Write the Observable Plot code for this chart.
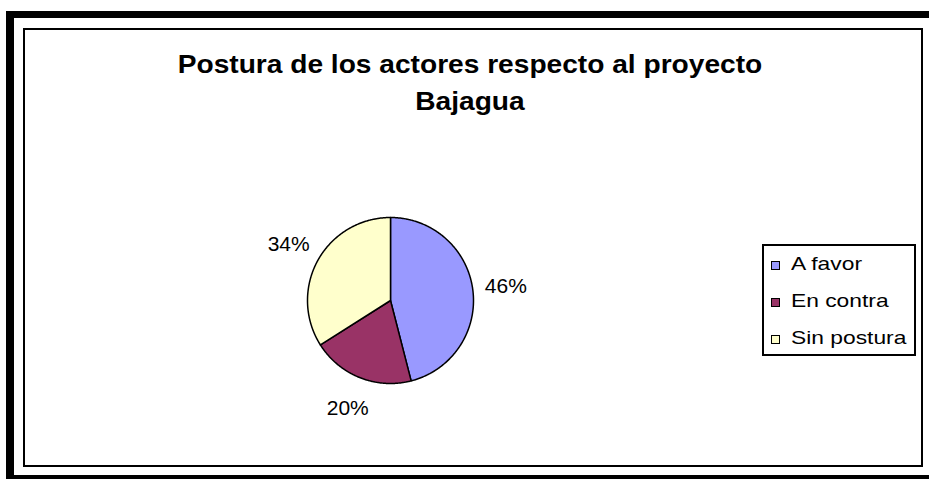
<!DOCTYPE html>
<html>
<head>
<meta charset="utf-8">
<script src="https://cdn.jsdelivr.net/npm/d3@7"></script>
<script src="https://cdn.jsdelivr.net/npm/@observablehq/plot@0.6"></script>
<style>
  html, body { margin: 0; padding: 0; background: #fff; }
  body { width: 929px; height: 479px; overflow: hidden; position: relative; font-family: "Liberation Sans", Arial, sans-serif; }
  #outer { position: absolute; left: 6px; top: 11px; width: 1000px; height: 468px; box-sizing: border-box;
           border-top: 7px solid #000; border-left: 8px solid #000; border-bottom: 4px solid #000; }
  #inner { position: absolute; left: 23px; top: 28px; width: 900px; height: 439px; box-sizing: border-box; border: 2px solid #000; }
  #chart { position: absolute; left: 0; top: 0; }
  #title { position: absolute; left: 0; top: 46px; width: 940px; text-align: center; font-weight: bold; font-size: 25px; line-height: 37px; color: #000;
           transform: scaleX(1.125); transform-origin: 470px 0; }
  #legend { position: absolute; left: 762px; top: 244px; width: 154px; height: 112px; box-sizing: border-box; border: 2px solid #000; background: #fff; }
  .item { position: absolute; left: 0; height: 36px; width: 150px; }
  .sw { position: absolute; left: 7px; top: 15px; width: 9px; height: 9px; box-sizing: border-box; border: 1.5px solid #000; }
  .lab { position: absolute; left: 27px; top: 6px; font-size: 19px; line-height: 24px; color: #000; white-space: nowrap;
         transform: scaleX(1.2); transform-origin: 0 0; }
</style>
</head>
<body>
<div id="outer"></div>
<div id="inner"></div>
<div id="chart"></div>
<div id="title">Postura de los actores respecto al proyecto<br>Bajagua</div>
<div id="legend"></div>
<script>
const categories = ["A favor", "En contra", "Sin postura"];
const values = [46, 20, 34];
const labels = ["46%", "20%", "34%"];
const colors = ["#9999FF", "#993366", "#FFFFCC"];

const total = d3.sum(values);
const slices = [];
const labelData = [];
let acc = 0;
categories.forEach((cat, i) => {
  const a0 = acc / total * 2 * Math.PI;
  acc += values[i];
  const a1 = acc / total * 2 * Math.PI;
  slices.push({cat, x: 0, y: 0});
  const n = Math.max(2, Math.ceil((a1 - a0) / (Math.PI / 360)));
  for (let k = 0; k <= n; k++) {
    const t = a0 + (a1 - a0) * k / n;
    slices.push({cat, x: Math.sin(t), y: Math.cos(t)});
  }
  slices.push({cat, x: 0, y: 0});
  const am = (a0 + a1) / 2;
  labelData.push({cat, text: labels[i], x: 1.4 * Math.sin(am), y: 1.4 * Math.cos(am)});
});

const chart = Plot.plot({
  width: 929,
  height: 479,
  margin: 0,
  x: {domain: [-1, 1], range: [307, 473], axis: null},
  y: {domain: [-1, 1], range: [383, 217], axis: null},
  color: {domain: categories, range: colors},
  style: {background: "transparent", fontFamily: "Liberation Sans, Arial, sans-serif"},
  marks: [
    Plot.line(slices, {x: "x", y: "y", z: "cat", fill: "cat", stroke: "#000", strokeWidth: 1.5, curve: "linear"}),
    Plot.text(labelData, {x: "x", y: "y", text: "text", fontSize: 21, fill: "#000", textAnchor: "middle", lineAnchor: "middle"})
  ]
});
document.getElementById("chart").appendChild(chart);

const legend = document.getElementById("legend");
categories.forEach((cat, i) => {
  const item = document.createElement("div");
  item.className = "item";
  item.style.top = (i * 37 + 0) + "px";
  const sw = document.createElement("div");
  sw.className = "sw";
  sw.style.background = colors[i];
  const lab = document.createElement("div");
  lab.className = "lab";
  lab.textContent = cat;
  item.appendChild(sw);
  item.appendChild(lab);
  legend.appendChild(item);
});
</script>
</body>
</html>
